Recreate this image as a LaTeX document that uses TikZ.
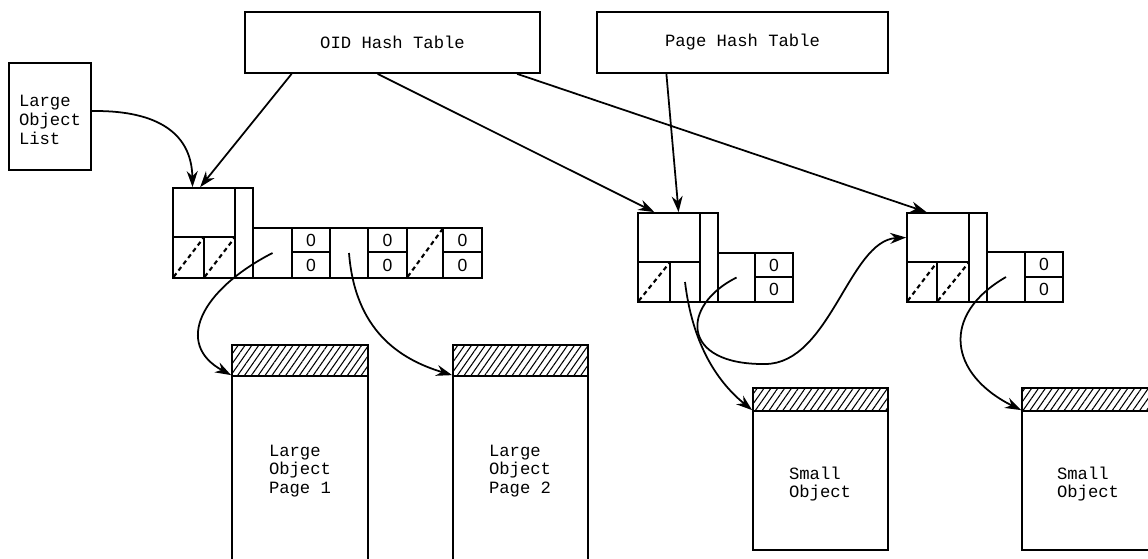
\documentclass[tikz,border=0pt]{standalone}
\usepackage{fontspec}
\setmonofont{Liberation Mono}
\setsansfont{Liberation Sans}
\usetikzlibrary{arrows.meta, fit, calc, patterns.meta}

\begin{document}
\begin{tikzpicture}[x=0.02cm, y=-0.02cm,
    box/.style={rectangle, draw, line width=1pt, inner sep=0pt},
    boxtext/.style={inner sep=0pt, align=left, font=\ttfamily\fontsize{9.8}{10.6}\selectfont},
    zero/.style={box, label={[inner sep=0pt, font=\sffamily\fontsize{10}{11}\selectfont]center:0}},
    hatch/.style={box, pattern={Lines[angle=55, distance=3.2pt, line width=0.6pt]}},
    nil/.style={line width=1.2pt, dash pattern=on 2.5pt off 2pt, shorten <=1.5pt, shorten >=1.5pt},
    arrow/.style={-{Stealth[length=3.2mm, width=2.2mm]}, line width=1pt}]

    \useasboundingbox (0,0) rectangle (1148,558);
    \clip (0,0) rectangle (1148,558);

    % Hash tables and list
    \node[box, fit={(245,12) (540,73)}] (oid_table) {};
    \node[boxtext] (oid_text) at (oid_table.center) {OID Hash Table};
    \node[box, fit={(597,12) (888,73)}] (page_table) {};
    \node[boxtext] (page_text) at (page_table.center) {Page Hash Table};
    \node[box, fit={(9,63) (91,170)}] (lo_list) {};
    \node[boxtext] (lo_list_text) at (50,120) {Large\\Object\\List};

    % Large object header
    \node[box, fit={(173,188) (235,237)}] (lo_head) {};
    \node[box, fit={(173,237) (204,278)}] (lo_cell_a) {};
    \node[box, fit={(204,237) (235,278)}] (lo_cell_b) {};
    \node[box, fit={(235,188) (253,278)}] (lo_bar) {};
    \node[box, fit={(253,228) (292,278)}] (lo_ptr1) {};
    \node[zero, fit={(292,228) (330,252)}] (lo_zero1_t) {};
    \node[zero, fit={(292,252) (330,278)}] (lo_zero1_b) {};
    \node[box, fit={(330,228) (368,278)}] (lo_ptr2) {};
    \node[zero, fit={(368,228) (407,252)}] (lo_zero2_t) {};
    \node[zero, fit={(368,252) (407,278)}] (lo_zero2_b) {};
    \node[box, fit={(407,228) (443,278)}] (lo_ptr3) {};
    \node[zero, fit={(443,228) (482,252)}] (lo_zero3_t) {};
    \node[zero, fit={(443,252) (482,278)}] (lo_zero3_b) {};
    \draw[nil] (lo_cell_a.south west) -- (lo_cell_a.north east);
    \draw[nil] (lo_cell_b.south west) -- (lo_cell_b.north east);
    \draw[nil] (lo_ptr3.south west) -- (lo_ptr3.north east);

    % First small object header
    \node[box, fit={(638,213) (700,262)}] (sa_head) {};
    \node[box, fit={(638,262) (670,302)}] (sa_cell_a) {};
    \node[box, fit={(670,262) (700,302)}] (sa_cell_b) {};
    \node[box, fit={(700,213) (718,302)}] (sa_bar) {};
    \node[box, fit={(718,253) (755,302)}] (sa_ptr) {};
    \node[zero, fit={(755,253) (793,277)}] (sa_zero_t) {};
    \node[zero, fit={(755,277) (793,302)}] (sa_zero_b) {};
    \draw[nil] (sa_cell_a.south west) -- (sa_cell_a.north east);

    % Second small object header
    \node[box, fit={(907,213) (969,262)}] (sb_head) {};
    \node[box, fit={(907,262) (937,302)}] (sb_cell_a) {};
    \node[box, fit={(937,262) (969,302)}] (sb_cell_b) {};
    \node[box, fit={(969,213) (987,302)}] (sb_bar) {};
    \node[box, fit={(987,252) (1025,302)}] (sb_ptr) {};
    \node[zero, fit={(1025,252) (1063,277)}] (sb_zero_t) {};
    \node[zero, fit={(1025,277) (1063,302)}] (sb_zero_b) {};
    \draw[nil] (sb_cell_a.south west) -- (sb_cell_a.north east);
    \draw[nil] (sb_cell_b.south west) -- (sb_cell_b.north east);

    % Pages
    \node[hatch, fit={(232,345) (368,376)}] (lo_page1_hdr) {};
    \node[box, fit={(232,376) (368,570)}] (lo_page1) {};
    \node[boxtext] (lo_page1_text) at (300,471) {Large\\Object\\Page 1};
    \node[hatch, fit={(453,345) (588,376)}] (lo_page2_hdr) {};
    \node[box, fit={(453,376) (588,570)}] (lo_page2) {};
    \node[boxtext] (lo_page2_text) at (520,471) {Large\\Object\\Page 2};
    \node[hatch, fit={(753,388) (888,411)}] (sa_obj_hdr) {};
    \node[box, fit={(753,411) (888,550)}] (sa_obj) {};
    \node[boxtext] (sa_obj_text) at (820,484) {Small\\Object};
    \node[hatch, fit={(1022,388) (1157,411)}] (sb_obj_hdr) {};
    \node[box, fit={(1022,411) (1157,550)}] (sb_obj) {};
    \node[boxtext] (sb_obj_text) at (1088,484) {Small\\Object};

    % Hash table entries
    \draw[arrow] ($(oid_table.south west)!.16!(oid_table.south east)$) -- ($(lo_head.north west)!.44!(lo_head.north east)$);
    \draw[arrow] ($(oid_table.south west)!.45!(oid_table.south east)$) -- ($(sa_head.north west)!.27!(sa_head.north east)$);
    \draw[arrow] ($(oid_table.south west)!.92!(oid_table.south east)$) -- ($(sb_head.north west)!.32!(sb_head.north east)$);
    \draw[arrow] ($(page_table.south west)!.24!(page_table.south east)$) -- ($(sa_head.north west)!.65!(sa_head.north east)$);
    \draw[arrow] ($(lo_list.north east)!.45!(lo_list.south east)$) .. controls +(59,-1) and +(-1,-58) .. ($(lo_head.north west)!.32!(lo_head.north east)$);

    % Page pointers
    \draw[arrow] (lo_ptr1.center) .. controls +(-72,37) and +(-57,-31) .. (lo_page1.north west);
    \draw[arrow] (lo_ptr2.center) .. controls +(6,77) and +(-53,-16) .. (lo_page2.north west);
    \draw[arrow] (sa_cell_b.center) .. controls +(7,58) and +(-38,-31) .. (sa_obj.north west);
    \coordinate (loop_low) at (765,364);
    \draw[arrow] (sa_ptr.center) .. controls +(-56,28) and +(-85,1) .. (loop_low) .. controls +(65,0) and +(-57,3) .. (sb_head.west);
    \draw[arrow] (sb_ptr.center) .. controls +(-66,38) and +(-72,-36) .. (sb_obj.north west);

\end{tikzpicture}
\end{document}
